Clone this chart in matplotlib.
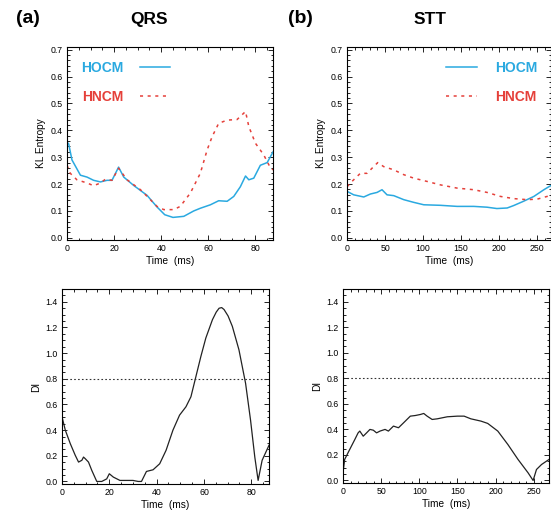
import matplotlib
matplotlib.use("Agg")
import matplotlib.pyplot as plt
from matplotlib.ticker import MultipleLocator

plt.rcParams['font.family'] = ['Liberation Sans', 'DejaVu Sans']

# KL entropy, QRS segment
qrs_hocm_t = [0, 0.7, 2.1, 5.7, 8.5, 11.3, 14.2, 17, 19.1, 21.9, 24.1, 28.3, 34, 38.2,
              41.5, 45, 49.6, 53.8, 56.6, 60.9, 64.4, 68, 70.8, 73.6, 75.8, 77.2, 79.3,
              82.1, 85, 87.5]
qrs_hocm_v = [0.356, 0.35, 0.29, 0.233, 0.226, 0.214, 0.208, 0.214, 0.214, 0.263, 0.226,
              0.195, 0.158, 0.115, 0.086, 0.076, 0.08, 0.10, 0.11, 0.123, 0.138, 0.136,
              0.154, 0.19, 0.23, 0.216, 0.222, 0.27, 0.28, 0.32]
qrs_hncm_t = [0, 1.4, 4.2, 8.5, 11.3, 14.2, 16.3, 19.1, 21.9, 25.5, 31.2, 35.4, 38.2, 41.1,
              45.3, 48.1, 52.4, 56.6, 59.5, 61.6, 64.4, 68, 72.2, 75.8, 77.2, 80, 83.5,
              86.4, 87.5]
qrs_hncm_v = [0.27, 0.24, 0.216, 0.204, 0.194, 0.204, 0.218, 0.214, 0.259, 0.216, 0.179,
              0.142, 0.117, 0.105, 0.105, 0.117, 0.167, 0.24, 0.327, 0.376, 0.426, 0.438,
              0.44, 0.47, 0.414, 0.352, 0.309, 0.26, 0.253]

# KL entropy, STT segment
stt_hocm_t = [0, 8.8, 22, 30.7, 39.5, 46, 52.6, 61.4, 74.6, 87.7, 100.9, 122.8, 144.7,
              166.7, 184, 197, 210.5, 219, 232, 245.6, 258.8, 270]
stt_hocm_v = [0.173, 0.16, 0.152, 0.163, 0.169, 0.179, 0.16, 0.157, 0.142, 0.132, 0.123,
              0.121, 0.117, 0.117, 0.114, 0.109, 0.111, 0.12, 0.136, 0.154, 0.179, 0.198]
stt_hncm_t = [0, 6.6, 17.5, 26.3, 32.9, 40.4, 48.2, 61.4, 74.6, 87.7, 105, 122.8, 144.7,
              166.7, 184, 201.8, 219, 236.8, 250, 263, 270]
stt_hncm_v = [0.19, 0.21, 0.24, 0.24, 0.259, 0.28, 0.265, 0.253, 0.235, 0.222, 0.21, 0.197,
              0.185, 0.179, 0.169, 0.154, 0.146, 0.142, 0.144, 0.154, 0.16]

# discrimination index
di_qrs_t = [0, 1.4, 3.5, 5.6, 7, 8.4, 9.1, 9.8, 11.2, 12.6, 14.7, 16.8, 18.9, 20, 21.7,
            24.5, 27.3, 30, 32.2, 33.6, 35.7, 38.5, 41.3, 44, 46.9, 49.7, 52.4, 54.5, 56.6,
            58.7, 60.8, 63.6, 65.2, 66.4, 67.5, 68.5, 70.2, 72, 74.8, 77.6, 79.7, 81.5,
            82.9, 84.6, 87.5]
di_qrs_v = [0.504, 0.40, 0.295, 0.204, 0.151, 0.165, 0.19, 0.178, 0.151, 0.086, 0.0, 0.0,
            0.02, 0.06, 0.034, 0.008, 0.008, 0.008, 0.0, 0.0, 0.078, 0.091, 0.138, 0.243,
            0.40, 0.517, 0.582, 0.66, 0.817, 0.974, 1.118, 1.261, 1.32, 1.35, 1.355, 1.34,
            1.29, 1.209, 1.026, 0.765, 0.478, 0.19, 0.008, 0.165, 0.282]
di_stt_t = [0, 2.2, 8.8, 15.4, 19.8, 22, 26.5, 30.9, 35.3, 39.7, 44, 48.5, 55.1, 59.5, 66.1,
            72.7, 79.4, 88.2, 94.8, 101.4, 105.8, 110.2, 116.8, 123.5, 136.7, 149.9, 158.7,
            167.5, 180.8, 189.6, 202.8, 216, 229.3, 242.5, 249.1, 253.5, 260.1, 270]
di_stt_v = [0.06, 0.165, 0.243, 0.32, 0.373, 0.387, 0.347, 0.373, 0.40, 0.394, 0.373, 0.387,
            0.40, 0.387, 0.426, 0.413, 0.452, 0.504, 0.509, 0.517, 0.525, 0.504, 0.478,
            0.483, 0.499, 0.504, 0.504, 0.483, 0.465, 0.447, 0.387, 0.282, 0.165, 0.06, 0.0,
            0.086, 0.125, 0.165]
di_threshold = 0.8

blue = '#2aa9e0'
red = '#e5403a'

fig = plt.figure(figsize=(5.51, 5.18), dpi=100)
ax_tl = fig.add_axes([0.1216, 0.5367, 0.374, 0.3726])
ax_tr = fig.add_axes([0.6298, 0.5367, 0.370, 0.3726])
ax_bl = fig.add_axes([0.1125, 0.0656, 0.3757, 0.3765])
ax_br = fig.add_axes([0.6225, 0.0675, 0.374, 0.3746])


def style(ax, xmax, xmaj, xmin, ylim, ymaj, ymin, ylabel):
    ax.set_xlim(0, xmax)
    ax.set_ylim(*ylim)
    ax.xaxis.set_major_locator(MultipleLocator(xmaj))
    ax.xaxis.set_minor_locator(MultipleLocator(xmin))
    ax.yaxis.set_major_locator(MultipleLocator(ymaj))
    ax.yaxis.set_minor_locator(MultipleLocator(ymin))
    ax.tick_params(which='both', direction='in', top=True, right=True,
                   labelsize=6.3, width=0.6, pad=3)
    ax.tick_params(which='major', length=3.5)
    ax.tick_params(which='minor', length=1.8)
    for s in ax.spines.values():
        s.set_linewidth(0.8)
    ax.yaxis.set_major_formatter(plt.FormatStrFormatter('%.1f'))
    ax.set_xlabel('Time  (ms)', fontsize=7.3, labelpad=2)
    ax.set_ylabel(ylabel, fontsize=7.3, labelpad=3)


# top: KL entropy
ax_tl.plot(qrs_hocm_t, qrs_hocm_v, color=blue, lw=1.1, label='HOCM')
ax_tl.plot(qrs_hncm_t, qrs_hncm_v, color=red, lw=1.1, ls=(0, (2, 3)), label='HNCM')
style(ax_tl, 87.5, 20, 5, (-0.008, 0.71), 0.1, 0.02, 'KL Entropy')
leg = ax_tl.legend(loc='upper left', frameon=False, markerfirst=False,
                   prop={'weight': 'bold', 'size': 10}, handlelength=2.2,
                   labelspacing=1.1, handletextpad=1.2, borderaxespad=0.6)
for txt, c in zip(leg.get_texts(), [blue, red]):
    txt.set_color(c)

ax_tr.plot(stt_hocm_t, stt_hocm_v, color=blue, lw=1.1, label='HOCM')
ax_tr.plot(stt_hncm_t, stt_hncm_v, color=red, lw=1.1, ls=(0, (2, 3)), label='HNCM')
style(ax_tr, 268, 50, 10, (-0.008, 0.71), 0.1, 0.02, 'KL Entropy')
leg = ax_tr.legend(loc='upper right', frameon=False,
                   prop={'weight': 'bold', 'size': 10}, handlelength=2.2,
                   labelspacing=1.1, handletextpad=1.3, borderaxespad=0.6)
for txt, c in zip(leg.get_texts(), [blue, red]):
    txt.set_color(c)

# bottom: DI
ax_bl.plot(di_qrs_t, di_qrs_v, color='#222222', lw=0.9)
ax_bl.axhline(di_threshold, color='#333333', lw=0.8, ls=(0, (1.5, 2)))
style(ax_bl, 87.5, 20, 5, (-0.02, 1.5), 0.2, 0.05, 'DI')

ax_br.plot(di_stt_t, di_stt_v, color='#222222', lw=0.9)
ax_br.axhline(di_threshold, color='#333333', lw=0.8, ls=(0, (1.5, 2)))
style(ax_br, 270, 50, 10, (-0.02, 1.5), 0.2, 0.05, 'DI')

# panel titles
fig.text(0.05, 0.965, '(a)', fontsize=14, fontweight='bold', ha='center', va='center')
fig.text(0.27, 0.962, 'QRS', fontsize=12.5, fontweight='bold', ha='center', va='center')
fig.text(0.545, 0.965, '(b)', fontsize=14, fontweight='bold', ha='center', va='center')
fig.text(0.78, 0.962, 'STT', fontsize=12.5, fontweight='bold', ha='center', va='center')

plt.savefig('out.png', dpi=100)
